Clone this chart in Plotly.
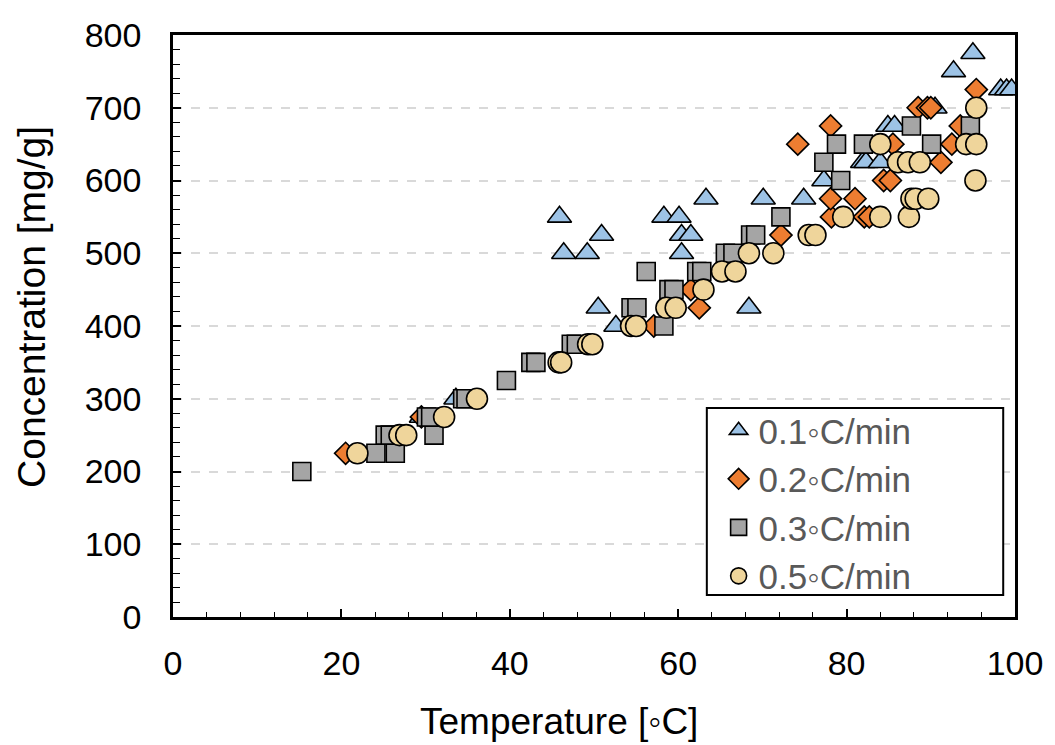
import plotly.graph_objects as go

# 0.1 C/min (triangles)
t01 = [29.5, 33.6, 45.9, 46.4, 49.2, 50.9, 50.5, 52.6, 58.3, 60.1, 63.3, 60.4, 61.5, 60.4,
       68.4, 70.1, 74.9, 77.3, 81.9, 82.3, 84.0, 84.9, 85.7, 90.5, 92.7, 95.0, 98.3, 99.0, 99.6]
c01 = [275, 300, 550, 500, 500, 525, 425, 400, 550, 550, 575, 525, 525, 500,
       425, 575, 575, 600, 625, 625, 625, 675, 675, 700, 750, 775, 725, 725, 725]

# 0.2 C/min (diamonds)
t02 = [20.5, 29.5, 57.1, 61.5, 62.5, 72.2, 78.2, 82.1, 82.7, 78.1, 81.0, 84.4, 85.2,
       74.2, 78.1, 85.5, 91.2, 92.5, 93.5, 88.5, 89.6, 90.0, 95.4]
c02 = [225, 275, 400, 450, 425, 525, 550, 550, 550, 575, 575, 600, 600,
       650, 675, 650, 625, 650, 675, 700, 700, 700, 725]

# 0.3 C/min (squares)
t03 = [15.3, 24.1, 26.4, 25.2, 25.8, 31.0, 30.1, 30.6, 34.4, 34.8, 39.6, 42.5, 43.1, 47.3, 47.9,
       54.4, 55.1, 58.3, 56.2, 58.9, 59.5, 62.2, 62.8, 65.6, 66.5, 68.6, 69.2, 72.2,
       79.3, 77.3, 78.8, 82.0, 87.7, 90.1, 94.7]
c03 = [200, 225, 225, 250, 250, 250, 275, 275, 300, 300, 325, 350, 350, 375, 375,
       425, 425, 400, 475, 450, 450, 475, 475, 500, 500, 525, 525, 550,
       600, 625, 650, 650, 675, 650, 675]

# 0.5 C/min (circles)
t05 = [21.9, 26.9, 27.7, 32.2, 36.1, 45.8, 46.1, 49.3, 49.8, 54.4, 55.0, 58.6, 59.7, 63.0,
       65.2, 66.8, 68.4, 71.3, 75.5, 76.3, 79.6, 84.0, 87.4, 87.7, 88.2, 89.7, 95.3,
       86.1, 87.3, 88.7, 84.0, 94.2, 95.4, 95.4]
c05 = [225, 250, 250, 275, 300, 350, 350, 375, 375, 400, 400, 425, 425, 450,
       475, 475, 500, 500, 525, 525, 550, 550, 550, 575, 575, 575, 600,
       625, 625, 625, 650, 650, 650, 700]

names = ["0.1◦C/min", "0.2◦C/min", "0.3◦C/min", "0.5◦C/min"]
xs = [t01, t02, t03, t05]
ys = [c01, c02, c03, c05]
symbols = ["triangle-up", "diamond", "square", "circle"]
colors = ["#9DC3E6", "#ED7D31", "#A5A5A5", "#EFD59B"]
sizes = [21, 17, 18, 21]

FONT = "Liberation Sans, Arial, sans-serif"

fig = go.Figure()
for i in range(4):
    fig.add_trace(go.Scatter(
        x=xs[i], y=ys[i], mode="markers", name=names[i], legendgroup=str(i),
        marker=dict(symbol=symbols[i], color=colors[i], size=sizes[i],
                    line=dict(color="black", width=1.6)),
    ))

# legend frame
fig.add_shape(type="rect", xref="paper", yref="paper",
              x0=0.634, x1=0.986, y0=0.038, y1=0.359,
              fillcolor="white", line=dict(color="black", width=2), layer="above")

fig.add_annotation(text="Concentration [mg/g]", xref="paper", yref="paper",
                   x=-0.168, y=0.532, xanchor="center", yanchor="middle",
                   textangle=-90, showarrow=False,
                   font=dict(size=39, family=FONT, color="black"))
fig.add_annotation(text="Temperature [◦C]", xref="paper", yref="paper",
                   x=0.4585, y=-0.1804, xanchor="center", yanchor="middle",
                   showarrow=False,
                   font=dict(size=37, family=FONT, color="black"))

fig.update_layout(
    width=1055, height=745,
    margin=dict(l=173, r=38, t=35, b=128),
    paper_bgcolor="white", plot_bgcolor="white",
    font=dict(family=FONT, color="black"),
    showlegend=True,
    legend=dict(
        x=0.648, y=0.371, xanchor="left", yanchor="top",
        bgcolor="rgba(0,0,0,0)", borderwidth=0,
        font=dict(size=35, color="#595959", family=FONT),
        tracegroupgap=0,
    ),
    xaxis=dict(
        range=[0, 100], dtick=20, tick0=0,
        showgrid=False, zeroline=False,
        showline=True, linecolor="black", linewidth=2.5, mirror=True,
        ticks="inside", ticklen=8, tickwidth=1.5, tickcolor="black",
        minor=dict(dtick=4, ticks="inside", ticklen=5, tickwidth=1.2, tickcolor="black", showgrid=False),
        tickfont=dict(size=34, family=FONT, color="black"),
        ticklabelstandoff=14,
    ),
    yaxis=dict(
        range=[0, 800], dtick=100, tick0=0,
        showgrid=True, gridcolor="#D9D9D9", griddash="dash", gridwidth=1.8,
        zeroline=False,
        showline=True, linecolor="black", linewidth=2.5, mirror=True,
        ticks="inside", ticklen=8, tickwidth=1.5, tickcolor="black",
        minor=dict(dtick=20, ticks="inside", ticklen=7, tickwidth=1.2, tickcolor="black", showgrid=False),
        tickfont=dict(size=34, family=FONT, color="black"),
        ticklabelstandoff=22,
    ),
)

fig.write_html("out.html")
